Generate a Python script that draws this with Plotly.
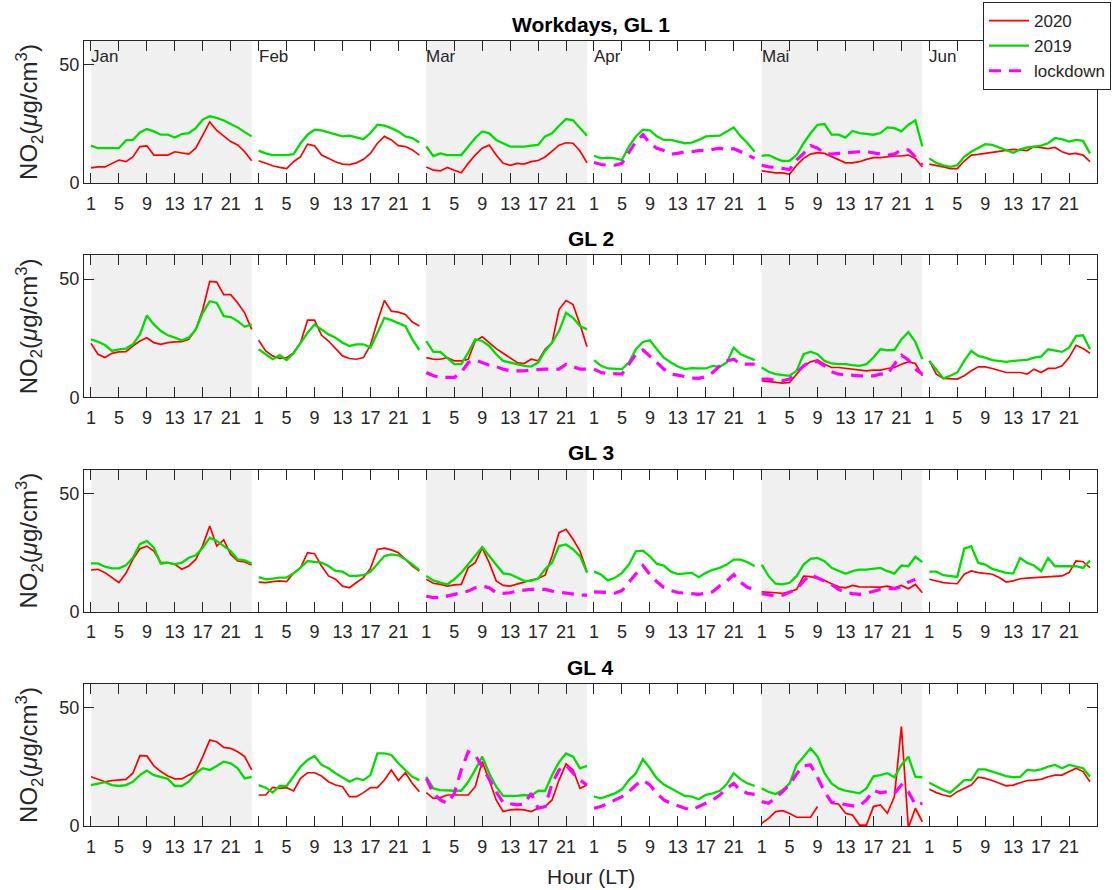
import plotly.graph_objects as go

MONTHS = ["Jan", "Feb", "Mar", "Apr", "Mai", "Jun"]
HOURS = list(range(1, 25))
TICK_HOURS = [1, 5, 9, 13, 17, 21]
SHADED_MONTHS = ["Jan", "Mar", "Mai"]
PANEL_TITLES = ["<b>Workdays, GL 1</b>", "<b>GL 2</b>", "<b>GL 3</b>", "<b>GL 4</b>"]
SERIES_NAMES = ["2020", "2019", "lockdown"]
Y_TICKS = [0, 50]
N = None
EMPTY = [N] * 24

# ---------------- GL 1 ----------------
GL1_2020 = (
    [6.4, 6.8, 6.8, 8.3, 9.7, 9.0, 11.0, 15.4, 15.7, 11.8, 11.8, 11.8, 13.2, 12.8, 12.2, 14.7, 20.4, 25.8, 22.2, 19.7, 17.5, 16.1, 13.2, 9.4]
    + [9.4, 8.3, 7.3, 6.6, 6.1, 9.0, 11.1, 16.4, 15.7, 11.8, 10.4, 9.0, 8.0, 7.8, 8.5, 10.0, 12.5, 16.8, 19.7, 18.2, 15.8, 15.4, 14.0, 11.8]
    + [6.8, 5.4, 5.1, 6.6, 5.4, 4.3, 8.3, 11.8, 14.7, 16.0, 11.8, 8.3, 7.5, 8.3, 8.0, 9.0, 9.5, 11.0, 13.5, 16.0, 17.0, 16.8, 13.5, 8.5]
    + EMPTY
    + [5.1, 4.7, 4.3, 4.3, 3.7, 7.5, 10.4, 12.2, 12.8, 12.5, 11.1, 9.7, 8.5, 8.5, 9.0, 10.0, 10.7, 10.7, 11.1, 11.4, 11.4, 11.8, 10.4, 6.8]
    + [8.0, 7.5, 6.8, 6.1, 6.1, 9.3, 11.8, 12.1, 12.5, 13.0, 13.5, 14.0, 14.2, 14.0, 13.7, 15.4, 15.0, 14.5, 15.0, 13.2, 12.2, 12.5, 11.8, 9.0]
)
GL1_2019 = (
    [15.8, 14.7, 14.7, 14.7, 14.7, 18.0, 18.2, 21.4, 22.8, 21.8, 20.4, 20.4, 19.2, 20.7, 21.1, 23.2, 26.8, 28.2, 27.5, 26.4, 25.0, 23.5, 21.5, 19.7]
    + [13.7, 12.5, 11.8, 11.8, 11.8, 12.2, 16.8, 20.4, 22.5, 22.2, 21.4, 20.8, 19.7, 20.0, 19.2, 18.5, 21.1, 24.6, 24.2, 23.2, 21.8, 19.7, 19.0, 17.1]
    + [15.4, 11.4, 12.5, 11.8, 11.8, 11.8, 15.4, 19.0, 21.8, 21.0, 18.2, 16.8, 15.4, 15.4, 15.4, 15.8, 16.1, 19.7, 21.0, 24.2, 27.0, 26.5, 23.2, 20.0]
    + [11.5, 10.4, 10.7, 10.4, 9.7, 15.4, 19.7, 22.5, 22.2, 19.7, 18.2, 18.2, 17.5, 16.8, 17.1, 18.2, 19.7, 20.0, 20.0, 21.8, 23.5, 19.7, 16.8, 13.2]
    + [11.5, 11.8, 10.4, 9.3, 9.4, 11.8, 16.8, 21.0, 24.6, 24.9, 20.4, 20.4, 19.2, 22.0, 21.1, 20.7, 20.4, 21.1, 23.5, 23.2, 21.8, 24.6, 26.5, 15.4]
    + [10.4, 8.5, 7.5, 6.8, 7.5, 11.1, 13.2, 14.7, 16.4, 16.1, 15.0, 14.0, 12.8, 14.2, 15.0, 15.4, 15.8, 16.8, 19.0, 18.5, 17.5, 18.2, 17.8, 12.5]
)
GL1_LOCK = (
    EMPTY + EMPTY + EMPTY
    + [8.7, 7.8, 7.5, 7.5, 8.3, 13.2, 17.5, 20.4, 16.8, 14.7, 13.7, 12.2, 12.5, 13.2, 13.2, 13.7, 13.7, 14.2, 14.7, 14.0, 14.5, 13.2, 11.8, 10.4]
    + [7.5, 6.8, 6.6, 6.1, 5.7, 9.7, 12.5, 15.8, 14.7, 12.5, 12.2, 12.5, 12.8, 12.8, 13.2, 13.2, 12.8, 12.5, 11.8, 12.2, 14.0, 14.0, 11.1, 7.5]
    + EMPTY
)

# ---------------- GL 2 ----------------
GL2_2020 = (
    [22.8, 18.2, 16.8, 18.6, 19.2, 19.3, 21.7, 23.8, 25.2, 23.1, 22.4, 23.1, 23.4, 23.5, 24.5, 28.7, 37.1, 49.0, 48.7, 43.4, 43.4, 39.9, 35.7, 28.7]
    + [24.1, 19.6, 17.5, 16.5, 16.8, 18.9, 23.1, 32.6, 32.6, 26.2, 23.8, 20.5, 17.5, 16.4, 16.1, 16.8, 22.0, 32.0, 40.9, 36.4, 36.0, 35.0, 31.8, 30.1]
    + [16.8, 16.1, 16.1, 16.8, 15.4, 15.4, 16.1, 23.8, 25.6, 23.1, 20.6, 18.6, 16.8, 14.7, 14.3, 16.1, 15.4, 20.3, 23.1, 37.1, 40.9, 39.2, 30.8, 21.4]
    + EMPTY
    + [7.0, 6.6, 6.3, 6.0, 6.3, 9.8, 13.3, 15.0, 15.8, 14.0, 12.6, 12.6, 12.3, 11.9, 11.6, 11.2, 11.5, 11.5, 12.2, 12.6, 14.0, 15.0, 14.3, 9.1]
    + [15.4, 9.8, 8.0, 7.7, 7.7, 9.1, 11.2, 12.9, 12.9, 12.2, 11.2, 10.5, 10.5, 10.5, 9.8, 11.9, 10.5, 12.2, 12.2, 13.3, 16.8, 22.0, 20.6, 18.6]
)
GL2_2019 = (
    [24.5, 23.5, 22.1, 19.6, 20.3, 20.6, 22.4, 26.6, 34.6, 30.8, 28.0, 26.2, 25.2, 24.1, 25.2, 28.7, 35.7, 40.6, 39.9, 34.3, 33.9, 32.2, 29.8, 30.8]
    + [20.3, 18.2, 16.1, 17.8, 15.8, 18.6, 23.1, 27.3, 30.8, 28.7, 26.6, 25.2, 23.1, 21.7, 22.4, 22.4, 21.0, 27.3, 33.6, 32.6, 31.5, 30.1, 24.5, 20.0]
    + [23.8, 19.2, 19.2, 16.8, 14.0, 14.0, 18.9, 24.5, 23.8, 21.7, 18.2, 15.4, 14.7, 14.0, 13.3, 13.0, 14.7, 19.6, 23.1, 28.0, 35.7, 33.6, 30.1, 28.7]
    + [15.7, 13.3, 12.2, 12.2, 11.9, 14.7, 20.3, 23.4, 24.1, 20.3, 16.8, 14.7, 13.0, 11.9, 12.3, 12.2, 12.2, 13.3, 12.9, 14.7, 21.0, 18.2, 16.8, 15.7]
    + [12.6, 10.8, 9.8, 9.5, 9.1, 11.2, 18.2, 19.3, 18.2, 15.4, 14.3, 14.0, 14.0, 13.6, 13.3, 14.0, 16.8, 20.3, 19.9, 20.0, 24.5, 27.6, 23.4, 16.1]
    + [15.4, 11.9, 8.0, 9.1, 10.5, 15.4, 19.6, 17.5, 16.8, 15.7, 15.4, 15.0, 15.4, 15.7, 15.8, 16.8, 17.2, 20.3, 19.6, 19.2, 21.0, 25.9, 26.2, 20.3]
)
GL2_LOCK = (
    EMPTY + EMPTY
    + [10.5, 9.1, 8.4, 8.4, 8.4, 10.5, 14.7, 15.8, 14.7, 13.6, 13.0, 11.9, 11.2, 11.2, 11.2, 11.6, 11.9, 11.9, 11.9, 11.9, 14.0, 13.0, 11.9, 11.9]
    + [11.9, 10.5, 10.1, 10.1, 9.8, 14.0, 18.2, 20.0, 17.5, 14.7, 11.9, 9.8, 9.4, 8.7, 8.1, 8.0, 8.7, 10.5, 13.3, 15.4, 16.1, 14.0, 14.0, 14.0]
    + [7.7, 7.7, 7.0, 7.0, 7.7, 10.5, 13.3, 15.0, 15.1, 13.3, 10.8, 9.8, 9.5, 9.4, 9.1, 9.1, 9.1, 9.8, 9.8, 14.0, 17.8, 15.8, 11.9, 9.8]
    + EMPTY
)

# ---------------- GL 3 ----------------
GL3_2020 = (
    [17.6, 17.9, 16.5, 14.4, 12.3, 16.2, 22.1, 26.6, 27.7, 25.6, 20.7, 20.7, 20.0, 17.9, 19.3, 22.1, 28.0, 36.2, 27.7, 30.3, 24.2, 21.4, 21.0, 19.7]
    + [12.5, 12.3, 12.7, 13.0, 12.7, 16.2, 18.6, 24.9, 24.5, 19.3, 15.1, 13.7, 10.8, 10.1, 12.3, 14.4, 18.2, 26.3, 26.8, 26.1, 24.9, 22.1, 19.3, 17.2]
    + [13.7, 12.0, 11.5, 10.8, 11.3, 11.5, 18.6, 20.7, 27.0, 20.7, 13.0, 11.1, 10.8, 11.5, 12.5, 13.4, 14.0, 15.4, 23.5, 33.4, 34.8, 30.6, 25.6, 16.8]
    + EMPTY
    + [8.4, 8.3, 8.0, 7.7, 8.3, 9.4, 15.0, 14.8, 13.9, 13.2, 11.8, 10.5, 10.1, 11.1, 10.5, 10.4, 10.5, 10.4, 10.8, 10.1, 11.1, 9.7, 11.5, 8.0]
    + [13.7, 13.0, 12.3, 12.0, 11.8, 15.8, 17.2, 16.5, 16.2, 15.8, 14.4, 12.5, 13.0, 13.9, 14.2, 14.4, 14.7, 14.7, 14.9, 15.1, 16.5, 21.4, 21.1, 18.6]
)
GL3_2019 = (
    [20.4, 20.4, 19.0, 18.3, 18.3, 19.6, 22.8, 28.5, 29.9, 27.0, 20.3, 20.7, 20.0, 20.7, 22.8, 23.8, 27.0, 31.3, 29.9, 27.7, 25.6, 22.1, 21.7, 20.3]
    + [14.6, 13.7, 14.0, 14.4, 14.4, 16.2, 18.6, 21.4, 21.0, 20.7, 19.3, 17.2, 16.9, 15.1, 15.1, 15.4, 16.8, 20.0, 23.5, 24.2, 23.8, 22.1, 20.0, 17.5]
    + [15.1, 13.2, 12.3, 11.5, 13.7, 16.5, 20.0, 23.8, 27.3, 23.5, 19.6, 16.2, 15.8, 14.4, 13.0, 13.0, 14.0, 17.9, 20.7, 27.7, 28.4, 26.3, 23.5, 16.5]
    + [16.9, 15.7, 13.2, 14.3, 16.4, 19.9, 25.5, 25.8, 23.4, 20.2, 19.5, 16.9, 15.9, 16.1, 16.4, 14.6, 16.4, 17.7, 18.5, 19.9, 22.0, 22.0, 20.9, 19.2]
    + [19.9, 15.0, 11.8, 11.5, 12.2, 15.0, 19.9, 22.3, 22.7, 21.3, 18.5, 17.1, 16.0, 17.1, 17.8, 17.8, 18.1, 18.5, 17.1, 16.1, 19.5, 19.2, 23.2, 20.9]
    + [16.9, 16.9, 15.4, 14.9, 14.7, 26.6, 27.7, 20.6, 19.9, 18.1, 17.1, 16.4, 16.1, 22.7, 20.6, 19.5, 17.1, 22.7, 19.2, 19.2, 19.5, 19.2, 18.5, 21.6]
)
GL3_LOCK = (
    EMPTY + EMPTY
    + [6.6, 5.9, 5.9, 6.6, 7.3, 7.7, 8.7, 10.1, 10.8, 10.1, 8.0, 7.7, 8.0, 8.7, 9.2, 9.4, 9.4, 9.4, 8.7, 8.3, 7.7, 7.3, 7.0, 7.0]
    + [8.4, 8.4, 8.1, 7.8, 8.9, 12.4, 15.7, 19.5, 15.7, 12.6, 10.2, 8.9, 8.1, 7.8, 7.3, 7.3, 7.8, 8.4, 10.9, 12.9, 15.7, 12.4, 10.2, 9.5]
    + [7.6, 7.0, 6.6, 7.0, 8.3, 9.4, 12.9, 15.7, 14.3, 12.9, 11.5, 9.4, 8.3, 7.6, 7.3, 7.8, 8.7, 9.4, 9.7, 9.7, 10.5, 12.5, 13.6, N]
    + EMPTY
)

# ---------------- GL 4 ----------------
GL4_2020 = (
    [20.8, 19.7, 18.7, 19.2, 19.4, 19.7, 22.3, 29.7, 29.6, 25.4, 23.0, 21.1, 19.9, 19.9, 21.5, 23.0, 29.3, 36.3, 35.6, 33.2, 32.8, 31.4, 29.3, 23.7]
    + [13.1, 13.1, 16.3, 15.9, 16.2, 14.8, 20.1, 22.5, 22.5, 21.1, 18.7, 17.3, 16.6, 12.4, 12.4, 14.1, 16.2, 16.2, 19.4, 23.7, 19.2, 22.5, 18.0, 14.5]
    + [14.1, 11.7, 12.0, 13.1, 13.1, 13.1, 13.1, 16.6, 27.2, 19.4, 11.0, 6.1, 6.8, 7.0, 6.8, 6.1, 7.5, 8.2, 11.0, 19.4, 26.2, 23.7, 15.9, 17.3]
    + EMPTY
    + [1.1, 3.2, 6.1, 6.5, 5.3, 3.7, 3.7, 3.7, 8.2, N, 9.6, 9.3, 5.4, 4.6, 0.4, 0.4, 8.2, 8.9, 5.4, 12.4, 42.0, -0.8, 7.5, 1.8]
    + [15.5, 14.1, 13.1, 12.4, 14.5, 15.9, 17.3, 20.6, 20.1, 19.2, 18.0, 17.0, 17.3, 18.3, 19.2, 19.4, 19.7, 20.8, 21.5, 21.5, 23.0, 24.4, 23.0, 18.7]
)
GL4_2019 = (
    [17.3, 18.0, 18.5, 17.3, 16.9, 17.3, 18.7, 21.5, 23.4, 21.5, 20.6, 19.9, 16.9, 16.9, 18.7, 22.3, 24.4, 23.7, 25.4, 27.2, 26.5, 24.4, 20.1, 20.8]
    + [17.3, 16.2, 14.1, 16.9, 16.9, 20.8, 25.1, 27.9, 29.6, 25.8, 24.4, 22.3, 20.6, 18.7, 20.1, 19.4, 21.5, 30.7, 30.7, 30.0, 26.5, 23.7, 20.8, 19.4]
    + [20.8, 15.9, 15.2, 14.9, 14.9, 14.9, 18.7, 23.7, 29.3, 22.3, 16.6, 12.7, 12.7, 12.7, 13.1, 12.8, 14.9, 14.8, 21.5, 27.0, 30.7, 29.3, 24.4, 25.4]
    + [12.4, 11.7, 12.7, 13.8, 15.5, 19.4, 22.3, 28.2, 24.4, 20.1, 17.5, 15.9, 14.5, 12.7, 12.4, 11.3, 13.2, 13.8, 14.9, 17.7, 22.3, 19.7, 18.0, 16.9]
    + [15.9, 14.4, 13.5, 15.2, 18.0, 25.8, 29.3, 32.8, 29.3, 22.3, 18.0, 15.9, 14.9, 14.5, 13.8, 15.9, 21.0, 21.5, 22.3, 20.6, 25.8, 29.3, 20.8, 20.6]
    + [18.3, 16.6, 15.2, 14.1, 16.6, 19.4, 19.4, 23.9, 23.9, 23.0, 22.3, 21.1, 20.6, 20.8, 23.7, 23.4, 23.9, 25.1, 25.8, 24.4, 25.8, 25.1, 24.4, 20.8]
)
GL4_LOCK = (
    EMPTY + EMPTY
    + [20.1, 13.8, 11.0, 9.6, 13.8, 23.7, 31.4, 30.0, 25.0, 19.4, 14.5, 9.9, 9.3, 8.9, 9.3, 13.8, 7.5, 8.2, 18.0, 23.7, 25.8, 22.3, 19.4, 17.3]
    + [7.5, 8.2, 9.6, 11.0, 12.4, 14.5, 17.3, 19.4, 17.3, 13.8, 11.0, 9.6, 8.5, 7.5, 6.8, 8.2, 9.6, 11.0, 13.1, 15.9, 18.0, 14.9, 13.8, 13.4]
    + [10.3, 9.6, 12.0, 14.5, 17.5, 22.0, 25.5, 25.8, 20.5, 14.5, 10.0, 10.0, 9.0, 8.5, 8.5, 11.0, 15.0, 14.0, 14.5, 13.8, 17.3, 14.5, 9.0, 9.6]
    + EMPTY
)

PANELS = [
    (GL1_2020, GL1_2019, GL1_LOCK),
    (GL2_2020, GL2_2019, GL2_LOCK),
    (GL3_2020, GL3_2019, GL3_LOCK),
    (GL4_2020, GL4_2019, GL4_LOCK),
]

# ---------------- styling ----------------
FONT = "Liberation Sans, Arial, Helvetica, sans-serif"
AX_COLOR = "#262626"
LINE_STYLES = [
    dict(color="#ff0000", width=1.7),
    dict(color="#00dd00", width=2.3),
    dict(color="#ff00ff", width=3.2, dash="12px,8px"),
]
NM = len(MONTHS)
NH = len(HOURS)


def month_series(values):
    """Concatenate months along one axis, breaking the line between months."""
    xs, ys = [], []
    for m in range(NM):
        xs += [m * NH + h for h in HOURS] + [None]
        ys += list(values[m * NH:(m + 1) * NH]) + [None]
    return xs, ys


W, H = 1112, 890
ML, MR, MT, MB = 84, 15, 41, 64
PH = H - MT - MB
ROW_H = 142 / PH
GAP = (PH - 4 * 142) / 3 / PH
domains = []
for i in range(4):
    top = 1 - i * (ROW_H + GAP)
    domains.append([max(0, top - ROW_H), min(1, top)])

fig = go.Figure()
for i, series in enumerate(PANELS):
    xa = "x" if i == 0 else f"x{i + 1}"
    ya = "y" if i == 0 else f"y{i + 1}"
    for s, vals in enumerate(series):
        xs, ys = month_series(vals)
        fig.add_trace(go.Scatter(
            x=xs, y=ys, mode="lines", line=LINE_STYLES[s],
            name=SERIES_NAMES[s], legendgroup=SERIES_NAMES[s],
            showlegend=(i == 0), xaxis=xa, yaxis=ya, connectgaps=False,
            hoverinfo="skip",
        ))

tickvals = [m * NH + h for m in range(NM) for h in TICK_HOURS]
ticktext = [str(h) for m in range(NM) for h in TICK_HOURS]

shapes = []
annotations = []
for i in range(4):
    xa = "x" if i == 0 else f"x{i + 1}"
    yname = "y" if i == 0 else f"y{i + 1}"
    for mname in SHADED_MONTHS:
        m = MONTHS.index(mname)
        shapes.append(dict(
            type="rect", xref=xa, yref=f"{yname} domain",
            x0=m * NH + HOURS[0], x1=m * NH + HOURS[-1], y0=0, y1=1,
            fillcolor="#f0f0f0", line=dict(width=0), layer="below",
        ))
    annotations.append(dict(
        text=PANEL_TITLES[i], xref="paper", yref="paper", x=0.5,
        y=domains[i][1] + 17 / PH, xanchor="center", yanchor="middle",
        showarrow=False, font=dict(family=FONT, size=21, color="#000000"),
    ))
for m, mname in enumerate(MONTHS):
    annotations.append(dict(
        text=mname, xref="x", yref="y", x=m * NH + HOURS[0] - 0.3, y=53.5,
        xanchor="left", yanchor="middle", showarrow=False,
        font=dict(family=FONT, size=17, color=AX_COLOR),
    ))
# x-axis label of the bottom panel
annotations.append(dict(
    text="Hour (LT)", xref="paper", yref="paper", x=0.5, y=-50 / PH,
    xanchor="center", yanchor="middle", showarrow=False,
    font=dict(family=FONT, size=21, color=AX_COLOR),
))

layout = dict(
    width=W, height=H,
    margin=dict(l=ML, r=MR, t=MT, b=MB, autoexpand=False),
    paper_bgcolor="white", plot_bgcolor="white",
    font=dict(family=FONT, color=AX_COLOR),
    shapes=shapes, annotations=annotations,
    legend=dict(
        x=(1111 - ML) / (W - ML - MR), xanchor="right",
        y=(H - MB - 2) / PH, yanchor="top",
        bordercolor=AX_COLOR, borderwidth=1, bgcolor="white",
        font=dict(family=FONT, size=17, color=AX_COLOR),
        tracegroupgap=0, itemwidth=40,
    ),
    showlegend=True,
)

for i in range(4):
    xkey = "xaxis" if i == 0 else f"xaxis{i + 1}"
    ykey = "yaxis" if i == 0 else f"yaxis{i + 1}"
    xa = "x" if i == 0 else f"x{i + 1}"
    ya = "y" if i == 0 else f"y{i + 1}"
    layout[xkey] = dict(
        domain=[0, 1], anchor=ya, range=[0, NM * NH + 1],
        tickmode="array", tickvals=tickvals, ticktext=ticktext,
        ticks="inside", ticklen=10, tickcolor=AX_COLOR, tickwidth=1,
        showline=True, linecolor=AX_COLOR, linewidth=1, mirror="ticks",
        showgrid=False, zeroline=False, automargin=False,
        ticklabelstandoff=4,
        tickfont=dict(family=FONT, size=18, color=AX_COLOR),
    )
    layout[ykey] = dict(
        domain=domains[i], anchor=xa, range=[0, 60],
        tickmode="array", tickvals=Y_TICKS,
        ticks="inside", ticklen=10, tickcolor=AX_COLOR, tickwidth=1,
        showline=True, linecolor=AX_COLOR, linewidth=1, mirror="ticks",
        showgrid=False, zeroline=False, automargin=False,
        tickfont=dict(family=FONT, size=18, color=AX_COLOR),
        title=dict(text="NO<sub>2</sub>(<i>μ</i>g/cm<sup>3</sup>)",
                   font=dict(family=FONT, size=24, color=AX_COLOR), standoff=14),
    )

fig.update_layout(**layout)
# remove the browser's default 8px body margin so the figure fills the window exactly
fig.write_html(
    "out.html",
    config={"displayModeBar": False},
    post_script="document.body.style.margin='0';document.body.style.overflow='hidden';",
)
